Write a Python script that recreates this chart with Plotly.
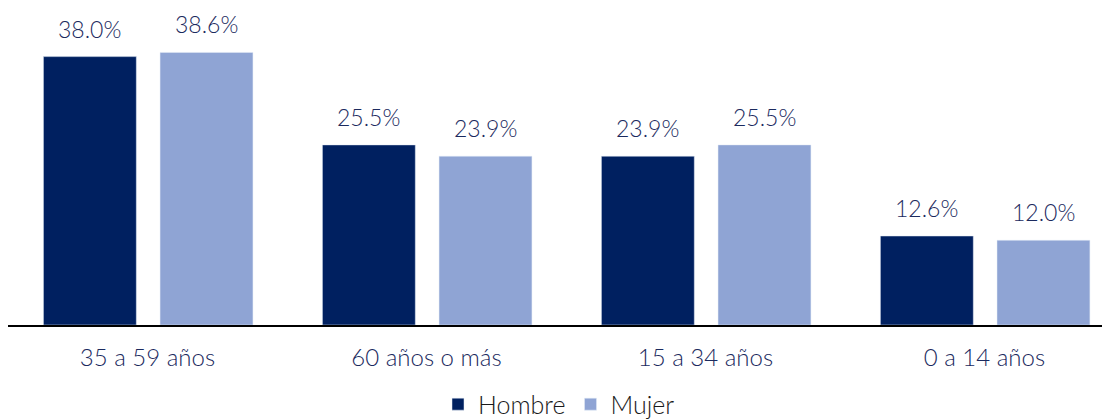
import plotly.graph_objects as go

categories = ["35 a 59 años", "60 años o más", "15 a 34 años", "0 a 14 años"]
hombre = [38.0, 25.5, 23.9, 12.6]
mujer = [38.6, 23.9, 25.5, 12.0]

DARK = "#002060"
LIGHT = "#8FA4D4"
TXT = "#1B2A5E"
FONT = "Lato"

x = list(range(len(categories)))
W = 0.333
OFF_H = -0.373
OFF_M = 0.045

fig = go.Figure()
fig.add_trace(go.Bar(x=x, y=hombre, name="Hombre", marker_color=DARK,
                     width=W, offset=OFF_H))
fig.add_trace(go.Bar(x=x, y=mujer, name="Mujer", marker_color=LIGHT,
                     width=W, offset=OFF_M))

lblfont = dict(family=FONT, size=23, color=TXT, weight=300)
ann = []
for i in x:
    ann.append(dict(x=i + OFF_H + W / 2, y=hombre[i], xref="x", yref="y",
                    text=f"{hombre[i]:.1f}%", showarrow=False, yanchor="bottom",
                    yshift=12, font=lblfont))
    ann.append(dict(x=i + OFF_M + W / 2, y=mujer[i], xref="x", yref="y",
                    text=f"{mujer[i]:.1f}%", showarrow=False, yanchor="bottom",
                    yshift=12, font=lblfont))

fig.update_layout(
    width=1102, height=440,
    margin=dict(l=0, r=0, t=2, b=123),
    plot_bgcolor="white", paper_bgcolor="white",
    barmode="overlay",
    showlegend=True,
    legend=dict(orientation="h", x=0.5, xanchor="center", y=-0.252, yanchor="middle",
                font=dict(family=FONT, size=25, color="#1a1a1a", weight=300),
                itemwidth=30, traceorder="normal"),
    annotations=ann,
    font=dict(family=FONT),
)
fig.update_xaxes(range=[-0.5, 3.45], tickmode="array", tickvals=x, ticktext=categories,
                 showline=True, linecolor="black", linewidth=2, showgrid=False,
                 ticks="", ticklabelstandoff=10,
                 tickfont=dict(family=FONT, size=24, color=TXT, weight=300), zeroline=False)
fig.update_yaxes(range=[0, 44.6], visible=False, showgrid=False, zeroline=False)

fig.write_html("out.html")
